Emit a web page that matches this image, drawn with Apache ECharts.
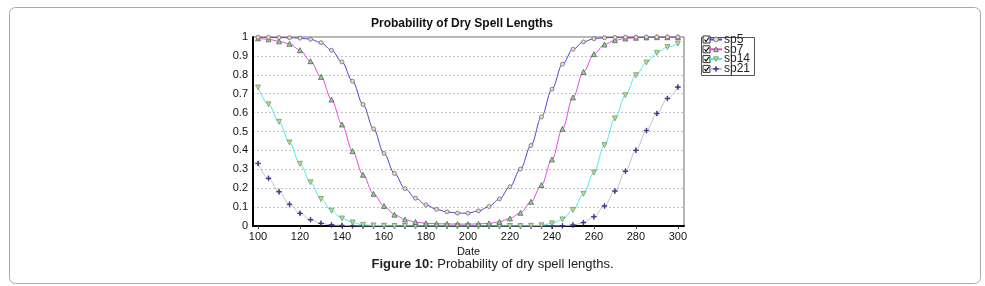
<!DOCTYPE html>
<html>
<head>
<meta charset="utf-8">
<script src="https://cdn.jsdelivr.net/npm/echarts@6/dist/echarts.min.js"></script>
<style>
html,body{margin:0;padding:0;background:#fff;}
#main{width:985px;height:286px;}
</style>
</head>
<body>
<div id="main"></div>
<script>
// day of year, one marker every 5 days
var dates = [100,105,110,115,120,125,130,135,140,145,150,155,160,165,170,175,180,185,190,195,
  200,205,210,215,220,225,230,235,240,245,250,255,260,265,270,275,280,285,290,295,300];
var xTicks = [100,120,140,160,180,200,220,240,260,280,300];

var sp5 = [0.999,0.998,0.997,0.996,0.994,0.988,0.970,0.930,0.868,0.766,0.643,0.514,0.384,0.278,0.198,0.147,0.112,0.088,0.075,0.068,
  0.068,0.080,0.103,0.143,0.208,0.301,0.426,0.577,0.724,0.856,0.935,0.974,0.991,0.996,0.998,0.999,0.999,1.0,1.0,1.0,1.0];
var sp7 = [0.993,0.988,0.977,0.964,0.930,0.872,0.789,0.669,0.537,0.396,0.271,0.170,0.106,0.060,0.034,0.021,0.014,0.012,0.011,0.010,
  0.010,0.011,0.014,0.022,0.040,0.070,0.128,0.217,0.352,0.514,0.680,0.815,0.909,0.960,0.983,0.992,0.996,0.998,0.999,0.999,0.999];
var sp14 = [0.733,0.644,0.551,0.442,0.329,0.231,0.143,0.081,0.040,0.019,0.006,0.003,0.001,0.0,0.0,0.0,0.0,0.0,0.0,0.0,
  0.0,0.0,0.0,0.0,0.0,0.0,0.001,0.004,0.014,0.035,0.085,0.170,0.283,0.428,0.569,0.692,0.798,0.865,0.916,0.947,0.965];
var sp21 = [0.331,0.252,0.181,0.115,0.067,0.033,0.014,0.006,0.003,0.001,0.0,0.0,0.0,0.0,0.0,0.0,0.0,0.0,0.0,0.0,
  0.0,0.0,0.0,0.0,0.0,0.0,0.0,0.0,0.0,0.001,0.005,0.018,0.049,0.106,0.185,0.290,0.401,0.505,0.595,0.675,0.735];

var names = ['sp5','sp7','sp14','sp21'];
var lineColors = ['#4646d6','#e448e4','#48ecec','#c4c4c4'];

function pairs(arr){
  var out = [];
  for(var i=0;i<dates.length;i++){ out.push([dates[i],arr[i]]); }
  return out;
}

var plusPath = 'path://M4.4,0h1.2v4.4h4.4v1.2h-4.4v4.4h-1.2v-4.4h-4.4v-1.2h4.4z';

var FONT = '"Liberation Sans", Arial, sans-serif';
var myChart = echarts.init(document.getElementById('main'));

function mkSeries(name, arr, idx, symbol, size, rot, fill, border){
  return {
    name: name,
    type: 'line',
    data: pairs(arr),
    smooth: 0.35,
    smoothMonotone: 'x',
    symbol: symbol,
    symbolSize: size,
    symbolRotate: rot,
    showAllSymbol: true,
    lineStyle: {color: lineColors[idx], width: 1},
    itemStyle: {color: fill, borderColor: border, borderWidth: 0.7},
    emphasis: {disabled: true},
    z: 10 - idx
  };
}

// one legend block per row so the rows sit as tight as the original
var legends = names.map(function(n, i){
  return {
    orient: 'vertical',
    left: 709, top: 33.5 + i*9.8,
    padding: 0,
    itemWidth: 12, itemHeight: 6,
    data: [n],
    selectedMode: false,
    itemStyle: {borderWidth: 0.7},
    textStyle: {fontFamily: FONT, fontSize: 12, color: '#222', padding: [0,0,0,-3]}
  };
});

var option = {
  animation: false,
  title: {
    text: 'Probability of Dry Spell Lengths',
    left: 457, top: 13, textAlign: 'center',
    textStyle: {fontFamily: FONT, fontSize: 12, fontWeight: 'bold', color: '#111'}
  },
  legend: legends,
  grid: {
    left: 253, right: 301, top: 37, bottom: 60,
    show: true, borderColor: '#6a6a6a', borderWidth: 1
  },
  xAxis: {
    type: 'value',
    min: 97.6, max: 302.9,
    name: 'Date', nameLocation: 'middle', nameGap: 19,
    nameTextStyle: {fontFamily: FONT, fontSize: 11, color: '#111'},
    axisLine: {show: true, lineStyle: {color: '#000', width: 2}},
    axisTick: {show: true, length: 3, customValues: xTicks, lineStyle: {color: '#444'}},
    axisLabel: {customValues: xTicks, fontFamily: FONT, fontSize: 11, color: '#111', margin: 5},
    splitLine: {show: false}
  },
  yAxis: {
    type: 'value',
    min: 0, max: 1, interval: 0.1,
    axisLine: {show: true, lineStyle: {color: '#000', width: 2}},
    axisTick: {show: false},
    axisLabel: {
      fontFamily: FONT, fontSize: 11, color: '#111', margin: 5,
      formatter: function(v){ return String(Math.round(v*10)/10); }
    },
    splitLine: {show: true, lineStyle: {color: '#c4c4c4', type: [2,2], width: 1}}
  },
  series: [
    mkSeries('sp5', sp5, 0, 'circle', 4, 0, '#e6dada', '#7a5454'),
    mkSeries('sp7', sp7, 1, 'triangle', 5, 0, '#9ccc9c', '#3c5a3c'),
    mkSeries('sp14', sp14, 2, 'triangle', 5, 180, '#c8d48c', '#5c9a5c'),
    mkSeries('sp21', sp21, 3, plusPath, 5, 0, '#2c2c8c', '#2c2c8c')
  ],
  graphic: [
    {type: 'rect', left: 7, top: 5, shape: {width: 971, height: 276, r: 6},
      style: {fill: 'none', stroke: '#a8a8a8', lineWidth: 1}, silent: true},
    {type: 'rect', left: 699, top: 35, shape: {width: 53, height: 38},
      style: {fill: 'none', stroke: '#555', lineWidth: 1}, silent: true, z: -1},
    {type: 'group', left: 702, top: 35, children: [0,1,2,3].map(function(i){
      var y = 1.5 + i*9.8;
      return {type: 'group', children: [
        {type: 'rect', shape: {x: 0, y: y, width: 7, height: 7}, style: {fill: '#fff', stroke: '#333', lineWidth: 1}},
        {type: 'polyline', shape: {points: [[1.5, y+3.5],[3, y+5.5],[6, y+1.5]]}, style: {stroke: '#111', lineWidth: 1.2, fill: 'none'}}
      ]};
    })},
    {type: 'text', left: 'center', top: 258,
      style: {
        text: '{b|Figure 10:} Probability of dry spell lengths.',
        fill: '#222',
        font: '13px ' + FONT,
        rich: {b: {fontWeight: 'bold', fontSize: 13, fontFamily: FONT, fill: '#222'}}
      }}
  ]
};
myChart.setOption(option);
</script>
</body>
</html>
